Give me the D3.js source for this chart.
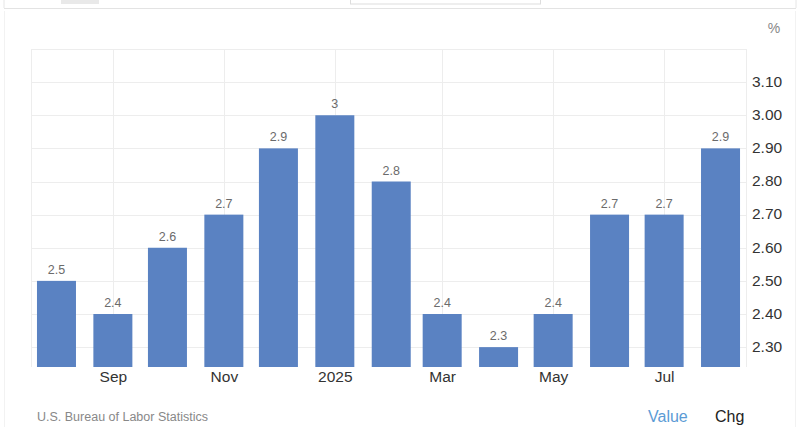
<!DOCTYPE html>
<html><head><meta charset="utf-8">
<script src="https://cdn.jsdelivr.net/npm/d3@7"></script>
<style>body{margin:0;background:#fff;}svg{display:block;font-family:"Liberation Sans",Arial,sans-serif;}</style>
</head><body><svg id="c" width="800" height="427"></svg>
<script>
const months = ["2024-08","2024-09","2024-10","2024-11","2024-12","2025-01","2025-02","2025-03","2025-04","2025-05","2025-06","2025-07","2025-08"];
const values = [2.5,2.4,2.6,2.7,2.9,3.0,2.8,2.4,2.3,2.4,2.7,2.7,2.9];
const yTicks = [2.3,2.4,2.5,2.6,2.7,2.8,2.9,3.0,3.1];
const xTickMonths = ["2024-09","2024-11","2025-01","2025-03","2025-05","2025-07"];
const xTickLabels = ["Sep","Nov","2025","Mar","May","Jul"];

const svg = d3.select("#c");
const parse = d3.utcParse("%Y-%m");
const L=31,R=746,T=49,B=367;
const x = d3.scaleUtc().domain([new Date(Date.UTC(2024,6,18)), new Date(Date.UTC(2025,7,15))]).range([L,R]);
const y = d3.scaleLinear().domain([2.24,3.2]).range([B,T]);

// top UI remnants
svg.append("line").attr("x1",4).attr("x2",4).attr("y1",0).attr("y2",8).attr("stroke","#e6e6e6");
svg.append("line").attr("x1",4).attr("x2",796).attr("y1",8.5).attr("y2",8.5).attr("stroke","#e3e3e3");
svg.append("line").attr("x1",796).attr("x2",796).attr("y1",0).attr("y2",8).attr("stroke","#e6e6e6");
svg.append("rect").attr("x",61).attr("y",0).attr("width",38).attr("height",4).attr("fill","#e9e9e9");
svg.append("rect").attr("x",350.5).attr("y",-1).attr("width",190).attr("height",5).attr("fill","#fff").attr("stroke","#ddd");
svg.append("line").attr("x1",4.5).attr("x2",4.5).attr("y1",11).attr("y2",427).attr("stroke","#f2f2f2");
svg.append("line").attr("x1",795.5).attr("x2",795.5).attr("y1",11).attr("y2",427).attr("stroke","#f2f2f2");

// grid
const g = svg.append("g");
g.selectAll(".hg").data(yTicks).join("line").attr("x1",L).attr("x2",R)
 .attr("y1",d=>Math.round(y(d))+0.5).attr("y2",d=>Math.round(y(d))+0.5).attr("stroke","#ededed");
g.append("line").attr("x1",L).attr("x2",R).attr("y1",T+0.5).attr("y2",T+0.5).attr("stroke","#ededed");
const vx = [x.domain()[0], ...xTickMonths.map(parse), x.domain()[1]];
g.selectAll(".vg").data(vx).join("line").attr("x1",d=>Math.round(x(d))+0.5).attr("x2",d=>Math.round(x(d))+0.5)
 .attr("y1",T).attr("y2",B).attr("stroke","#ededed");

// bars
const bw = 39;
svg.selectAll(".bar").data(values).join("rect")
 .attr("x",(d,i)=>x(parse(months[i]))-bw/2).attr("width",bw)
 .attr("y",d=>y(d)).attr("height",d=>B-y(d)).attr("fill","#5a82c2");
svg.selectAll(".vl").data(values).join("text")
 .attr("x",(d,i)=>x(parse(months[i]))).attr("y",d=>y(d)-7)
 .attr("text-anchor","middle").attr("font-size",12.5).attr("fill","#6b6b6b")
 .text(d=>d3.format("")(d));

// y axis labels
const ya = d3.axisRight(y).tickValues(yTicks).tickFormat(d3.format(".2f")).tickSize(0).tickPadding(0);
const yg = svg.append("g").attr("transform",`translate(752,0)`).call(ya);
yg.select(".domain").remove();
yg.selectAll("text").attr("font-size",15.5).attr("fill","#333").attr("font-family","Liberation Sans, Arial, sans-serif").attr("dy","0.28em");

// x axis labels
const xa = d3.axisBottom(x).tickValues(xTickMonths.map(parse)).tickFormat((d,i)=>xTickLabels[i]).tickSize(0).tickPadding(0);
const xg = svg.append("g").attr("transform",`translate(0,${B})`).call(xa);
xg.select(".domain").remove();
xg.selectAll("text").attr("font-size",15.5).attr("fill","#333").attr("font-family","Liberation Sans, Arial, sans-serif").attr("dy","0").attr("y",15);

svg.append("text").attr("x",774).attr("y",33).attr("font-size",14).attr("fill","#888").attr("text-anchor","middle").text("%");
svg.append("text").attr("x",37).attr("y",421).attr("font-size",12.5).attr("fill","#888").text("U.S. Bureau of Labor Statistics");
svg.append("text").attr("x",648).attr("y",422).attr("font-size",16).attr("fill","#5b9bd5").text("Value");
svg.append("text").attr("x",715).attr("y",422).attr("font-size",16).attr("fill","#222").text("Chg");
</script></body></html>
